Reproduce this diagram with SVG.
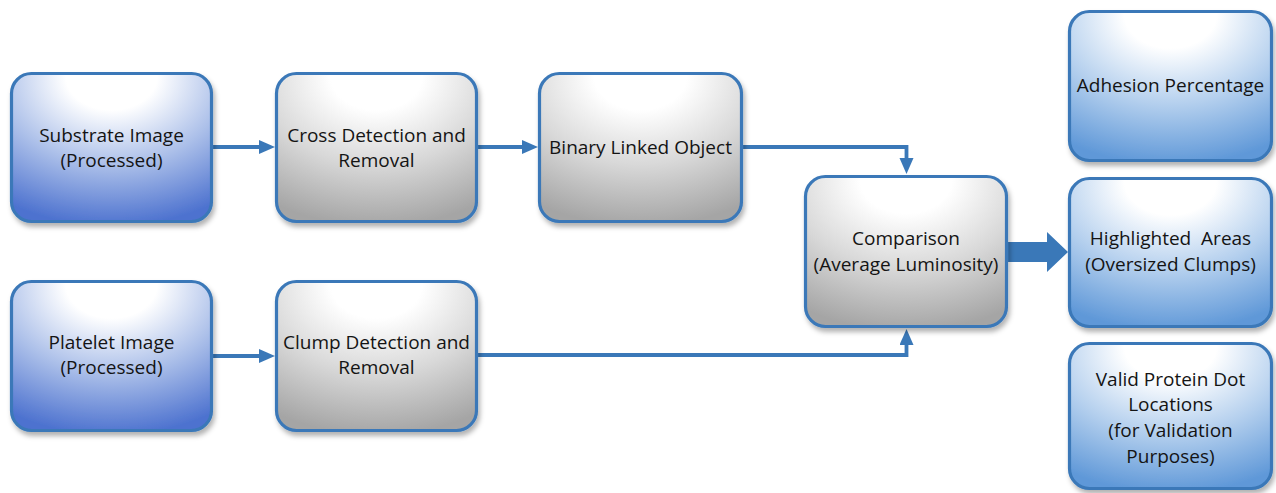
<svg xmlns="http://www.w3.org/2000/svg" width="1276" height="493" viewBox="0 0 1276 493">
  <defs>
    <!-- input images: white highlight at the top, saturated blue at the bottom -->
    <radialGradient id="gradInput" cx="0.5" cy="0.08" r="0.95" fx="0.5" fy="0.0">
      <stop offset="0" stop-color="#ffffff"/>
      <stop offset="0.24" stop-color="#ffffff"/>
      <stop offset="0.6" stop-color="#abbfe9"/>
      <stop offset="1" stop-color="#4d72cf"/>
    </radialGradient>
    <!-- processing steps: white to grey -->
    <radialGradient id="gradStep" cx="0.5" cy="0.08" r="0.95" fx="0.5" fy="0.0">
      <stop offset="0" stop-color="#ffffff"/>
      <stop offset="0.24" stop-color="#ffffff"/>
      <stop offset="0.6" stop-color="#d8d8d8"/>
      <stop offset="1" stop-color="#a5a5a5"/>
    </radialGradient>
    <!-- outputs: white to light blue -->
    <radialGradient id="gradOutput" cx="0.5" cy="0.08" r="0.95" fx="0.5" fy="0.0">
      <stop offset="0" stop-color="#ffffff"/>
      <stop offset="0.24" stop-color="#ffffff"/>
      <stop offset="0.6" stop-color="#b5d0ee"/>
      <stop offset="1" stop-color="#5f98d8"/>
    </radialGradient>
    <filter id="shadow" x="-10%" y="-10%" width="125%" height="130%">
      <feDropShadow dx="2" dy="4" stdDeviation="2.5" flood-color="#000000" flood-opacity="0.3"/>
    </filter>
    <marker id="arrow" markerUnits="userSpaceOnUse" markerWidth="16" markerHeight="15" refX="0" refY="7" orient="auto">
      <path d="M0,0 L16,7 L0,14 Z" fill="#3a78b8"/>
    </marker>
    <style>
      .box { stroke: #3a78b8; stroke-width: 3.2; filter: url(#shadow); }
      .input { fill: url(#gradInput); }
      .step { fill: url(#gradStep); }
      .output { fill: url(#gradOutput); }
      .label { font-family: "Open Sans", "Liberation Sans", sans-serif; font-size: 19px; fill: #141414; text-anchor: middle; }
      .link { fill: none; stroke: #3a78b8; stroke-width: 3.8; marker-end: url(#arrow); }
    </style>
  </defs>

  <rect width="1276" height="493" fill="#ffffff"/>

  <!-- connectors -->
  <g id="connectors">
    <path class="link" d="M213,147 H259"/>
    <path class="link" d="M478,147 H522"/>
    <path class="link" d="M743,147 H906.5 V158"/>
    <path class="link" d="M213,356 H259"/>
    <path class="link" d="M478,355 H906.5 V345"/>
    <polygon id="result-arrow" points="1006,242 1047,242 1047,232 1068,252 1047,272 1047,262 1006,262" fill="#3a78b8"/>
  </g>

  <g id="substrate-image">
    <rect class="box input" x="11.5" y="73.5" width="200" height="148" rx="20"/>
    <text class="label" x="111.5" y="142">Substrate Image</text>
    <text class="label" x="111.5" y="167">(Processed)</text>
  </g>

  <g id="cross-detection">
    <rect class="box step" x="276.5" y="73.5" width="200" height="148" rx="20"/>
    <text class="label" x="376.5" y="142">Cross Detection and</text>
    <text class="label" x="376.5" y="167">Removal</text>
  </g>

  <g id="binary-linked-object">
    <rect class="box step" x="539.5" y="73.5" width="202" height="148" rx="20"/>
    <text class="label" x="640.5" y="154">Binary Linked Object</text>
  </g>

  <g id="platelet-image">
    <rect class="box input" x="11.5" y="281.5" width="200" height="149" rx="20"/>
    <text class="label" x="111.5" y="349">Platelet Image</text>
    <text class="label" x="111.5" y="374">(Processed)</text>
  </g>

  <g id="clump-detection">
    <rect class="box step" x="276.5" y="281.5" width="200" height="149" rx="20"/>
    <text class="label" x="376.5" y="349">Clump Detection and</text>
    <text class="label" x="376.5" y="374">Removal</text>
  </g>

  <g id="comparison">
    <rect class="box step" x="805.5" y="176.5" width="201" height="150" rx="20"/>
    <text class="label" x="906" y="245">Comparison</text>
    <text class="label" x="906" y="271">(Average Luminosity)</text>
  </g>

  <g id="adhesion-percentage">
    <rect class="box output" x="1069.5" y="11.5" width="202" height="149" rx="20"/>
    <text class="label" x="1170.5" y="92">Adhesion Percentage</text>
  </g>

  <g id="highlighted-areas">
    <rect class="box output" x="1069.5" y="178.5" width="202" height="148" rx="20"/>
    <text class="label" x="1170.5" y="245" xml:space="preserve">Highlighted  Areas</text>
    <text class="label" x="1170.5" y="271">(Oversized Clumps)</text>
  </g>

  <g id="valid-protein-dots">
    <rect class="box output" x="1069.5" y="343.5" width="202" height="145" rx="20"/>
    <text class="label" x="1170.5" y="386">Valid Protein Dot</text>
    <text class="label" x="1170.5" y="411">Locations</text>
    <text class="label" x="1170.5" y="437">(for Validation</text>
    <text class="label" x="1170.5" y="463">Purposes)</text>
  </g>
</svg>
